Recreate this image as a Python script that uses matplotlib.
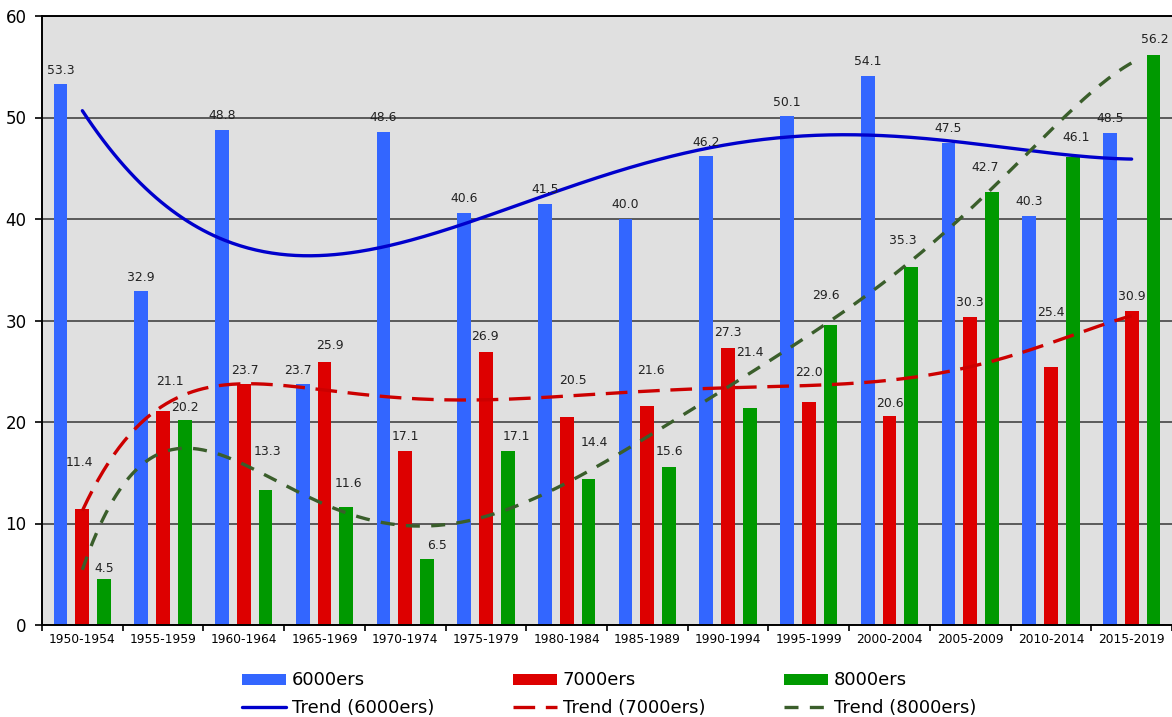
import numpy as np
import matplotlib
matplotlib.use("Agg")
import matplotlib.pyplot as plt
from matplotlib.ticker import FixedLocator

categories = ["1950-1954", "1955-1959", "1960-1964", "1965-1969", "1970-1974",
              "1975-1979", "1980-1984", "1985-1989", "1990-1994", "1995-1999",
              "2000-2004", "2005-2009", "2010-2014", "2015-2019"]
s6000 = [53.3, 32.9, 48.8, 23.7, 48.6, 40.6, 41.5, 40.0, 46.2, 50.1, 54.1, 47.5, 40.3, 48.5]
s7000 = [11.4, 21.1, 23.7, 25.9, 17.1, 26.9, 20.5, 21.6, 27.3, 22.0, 20.6, 30.3, 25.4, 30.9]
s8000 = [4.5, 20.2, 13.3, 11.6, 6.5, 17.1, 14.4, 15.6, 21.4, 29.6, 35.3, 42.7, 46.1, 56.2]
series_names = ["6000ers", "7000ers", "8000ers"]
trend_degrees = [4, 6, 6]

# label placement tweaks (pixels) as in the reference
lab_dx = [
    [0, 0, 0, -5, 0, 0, 0, 0, 0, 0, 0, 0, 0, 0],
    [-3, 7, 1, 5, 0, -1, 6, 4, 0, 0, 0, 0, 0, 0],
    [0, 0, 2, 2, 10, 9, 6, 0, 0, -5, -8, -7, 3, 1],
]
lab_dy = [
    [14] * 14,
    [47, 29, 14, 17, 15, 15, 36, 35, 15, 29, 12, 15, 55, 15],
    [11, 12, 39, 24, 14, 15, 36, 15, 55, 29, 26, 24, 20, 15],
]

bar_colors = ["#3366ff", "#dd0000", "#009900"]
trend_colors = ["#0000cc", "#cc0000", "#3a5e2b"]
trend_dashes = [None, (6.5, 3.2), (4.2, 3.4)]

W, H = 1172, 717
fig = plt.figure(figsize=(W / 100, H / 100), dpi=100)
ax = fig.add_axes([42 / W, 1 - 625 / H, 1 - 42 / W, (625 - 16) / H])
ax.set_facecolor("#e0e0e0")

x = np.arange(len(categories))
offsets = [-0.27, 0.0, 0.27]
width = 0.17
data = [s6000, s7000, s8000]

bar_handles = []
trend_handles = []
xs = np.linspace(x[0], x[-1], 400)
for k, (vals, name) in enumerate(zip(data, series_names)):
    b = ax.bar(x + offsets[k], vals, width, color=bar_colors[k], zorder=2,
               label=name, linewidth=0)
    bar_handles.append(b)
    for i, v in enumerate(vals):
        ax.annotate(f"{v:.1f}", (x[i] + offsets[k], v),
                    xytext=(lab_dx[k][i], lab_dy[k][i]), textcoords="offset pixels",
                    ha="center", va="center", fontsize=8.9, color="#222222", zorder=5)
    p = np.polyfit(x, vals, trend_degrees[k])
    kw = dict(color=trend_colors[k], lw=2.4, zorder=4, label=f"Trend ({name})",
              solid_capstyle="round", dash_capstyle="butt")
    ln, = ax.plot(xs, np.polyval(p, xs), **kw)
    if trend_dashes[k] is not None:
        ln.set_dashes(trend_dashes[k])
    trend_handles.append(ln)

ax.set_xlim(-0.5, len(categories) - 0.5)
ax.set_ylim(0, 60)
ax.set_yticks(np.arange(0, 61, 10))
ax.tick_params(axis="y", labelsize=12, length=5, width=1.2, direction="out", pad=6,
               colors="black")
ax.set_xticks(x)
ax.set_xticklabels(categories, fontsize=8.8)
ax.tick_params(axis="x", which="major", length=0, pad=6)
ax.xaxis.set_minor_locator(FixedLocator(np.arange(-0.5, len(categories), 1.0)))
ax.tick_params(axis="x", which="minor", length=4, width=1.2, direction="out")

ax.yaxis.grid(True, color="#5a5a5a", lw=1.4, zorder=0)
ax.set_axisbelow(True)
for side in ["left", "bottom", "top"]:
    ax.spines[side].set_color("black")
    ax.spines[side].set_linewidth(1.4)
ax.spines["right"].set_visible(False)

handles = []
for b, t in zip(bar_handles, trend_handles):
    handles += [b, t]
fig.legend(handles=handles, labels=[h.get_label() for h in handles], ncol=3,
           loc="center", bbox_to_anchor=(609 / W, 1 - 694 / H), frameon=False,
           fontsize=13, handlelength=2.45, handleheight=0.55, handletextpad=0.33,
           columnspacing=4.35, labelspacing=0.5)

fig.savefig("out.png", dpi=100)
